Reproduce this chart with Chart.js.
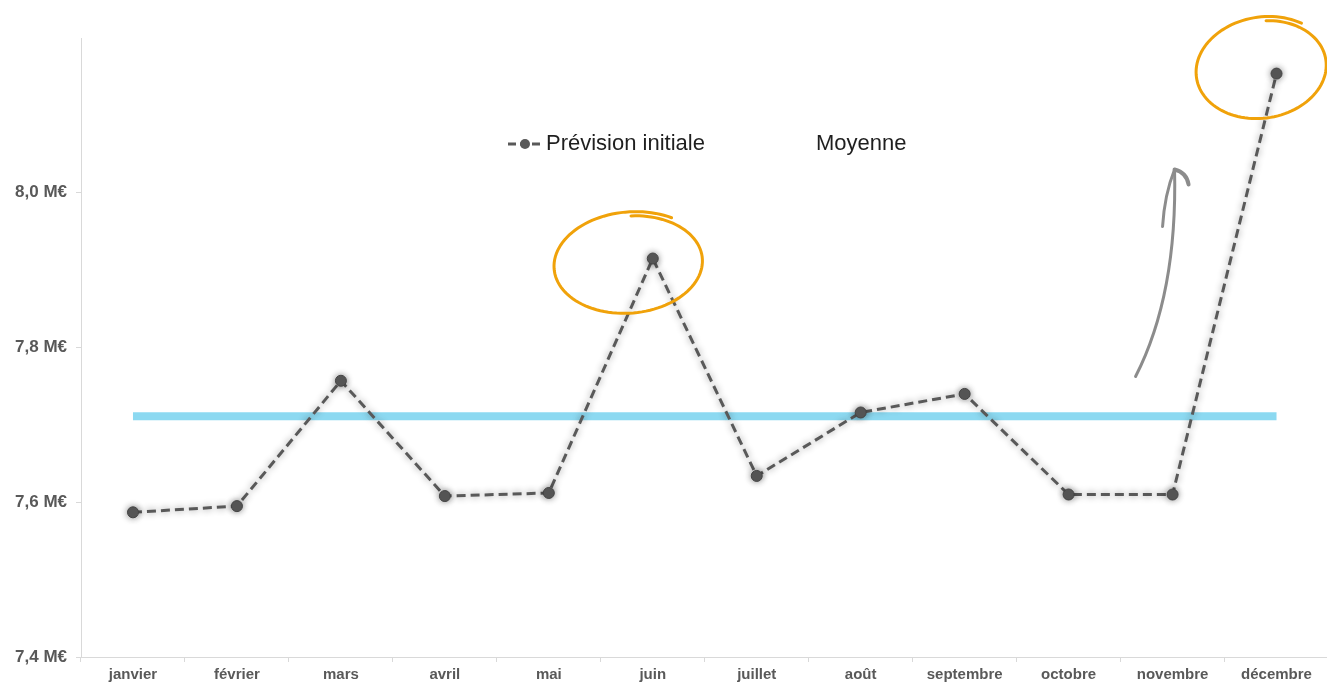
<!DOCTYPE html>
<html lang="fr">
<head>
<meta charset="UTF-8">
<title>Prévision initiale</title>
<script src="https://cdn.jsdelivr.net/npm/chart.js"></script>
<style>
  html, body { margin: 0; background: #fff; overflow: hidden; }
  canvas { display: block; }
</style>
</head>
<body>
<canvas id="chart" width="1335" height="682"></canvas>
<script>
// months (categories)
const mois = ['janvier', 'février', 'mars', 'avril', 'mai', 'juin', 'juillet', 'août', 'septembre', 'octobre', 'novembre', 'décembre'];
// forecast in M€
const prevision = [7.587, 7.595, 7.757, 7.608, 7.612, 7.915, 7.634, 7.716, 7.740, 7.610, 7.610, 8.154];
// average line
const moyenne = [7.711, 7.711, 7.711, 7.711, 7.711, 7.711, 7.711, 7.711, 7.711, 7.711, 7.711, 7.711];
// y axis
const yMin = 7.4, yMax = 8.2, yStep = 0.2;

const grey = '#595959';
const orange = '#f0a20a';
const font = '"Liberation Sans", Arial, sans-serif';

// glow under the dashed line
const glow = {
    id: 'glow',
    beforeDatasetDraw(chart, args) {
        if (args.index !== 0) return;
        const ctx = chart.ctx;
        ctx.save();
        ctx.shadowColor = 'rgba(0,0,0,0.45)';
        ctx.shadowBlur = 7;
    },
    afterDatasetDraw(chart, args) {
        if (args.index !== 0) return;
        chart.ctx.restore();
    }
};

// hand drawn ellipse around a point
function scribble(ctx, cx, cy, rx, ry, rot, start) {
    ctx.beginPath();
    const n = 120;
    const span = Math.PI * 2 + 0.55;
    for (let i = 0; i <= n; i++) {
        const t = start + span * i / n;
        const k = 0.95 + 0.09 * i / n;
        const x0 = Math.cos(t) * rx * k, y0 = Math.sin(t) * ry * k;
        const x = cx + x0 * Math.cos(rot) - y0 * Math.sin(rot);
        const y = cy + x0 * Math.sin(rot) + y0 * Math.cos(rot);
        if (i === 0) ctx.moveTo(x, y); else ctx.lineTo(x, y);
    }
    ctx.stroke();
}

const notes = {
    id: 'notes',
    afterDraw(chart) {
        const ctx = chart.ctx;
        const meta = chart.getDatasetMeta(0);
        const juin = meta.data[5], dec = meta.data[11], nov = meta.data[10];

        // legend
        ctx.save();
        ctx.strokeStyle = grey;
        ctx.lineWidth = 3;
        ctx.setLineDash([8, 4]);
        ctx.beginPath();
        ctx.moveTo(508, 144);
        ctx.lineTo(542, 144);
        ctx.stroke();
        ctx.setLineDash([]);
        ctx.fillStyle = grey;
        ctx.beginPath();
        ctx.arc(525, 144, 5, 0, Math.PI * 2);
        ctx.fill();
        ctx.fillStyle = '#1f1f1f';
        ctx.font = '22px ' + font;
        ctx.textBaseline = 'middle';
        ctx.fillText('Prévision initiale', 546, 144);
        ctx.fillText('Moyenne', 816, 144);
        ctx.restore();

        // orange circles
        ctx.save();
        ctx.strokeStyle = orange;
        ctx.lineWidth = 3;
        ctx.lineCap = 'round';
        scribble(ctx, juin.x - 23, juin.y + 5, 75, 50, -0.08, -1.5);
        scribble(ctx, dec.x - 14, dec.y - 5, 66, 50, -0.15, -1.4);
        ctx.restore();

        // grey arrow
        ctx.save();
        ctx.strokeStyle = '#8c8c8c';
        ctx.lineWidth = 3;
        ctx.lineCap = 'round';
        const ax = nov.x, ay = nov.y;
        ctx.beginPath();
        ctx.moveTo(ax - 37, ay - 118);
        ctx.quadraticCurveTo(ax + 5, ay - 200, ax + 2, ay - 325);
        ctx.stroke();
        ctx.beginPath();
        ctx.moveTo(ax + 2, ay - 325);
        ctx.quadraticCurveTo(ax - 8, ay - 300, ax - 10, ay - 268);
        ctx.stroke();
        ctx.lineWidth = 4;
        ctx.beginPath();
        ctx.moveTo(ax + 2, ay - 325);
        ctx.quadraticCurveTo(ax + 14, ay - 322, ax + 16, ay - 310);
        ctx.stroke();
        ctx.restore();
    }
};

new Chart(document.getElementById('chart'), {
    type: 'line',
    data: {
        labels: mois,
        datasets: [{
            label: 'Prévision initiale',
            data: prevision,
            borderColor: grey,
            borderWidth: 3,
            borderDash: [9, 5],
            pointRadius: 5.5,
            pointBackgroundColor: grey,
            pointBorderColor: '#444',
            pointBorderWidth: 1,
            tension: 0
        }, {
            label: 'Moyenne',
            data: moyenne,
            borderColor: 'rgba(120, 210, 238, 0.85)',
            borderWidth: 8,
            borderCapStyle: 'butt',
            pointRadius: 0
        }]
    },
    options: {
        responsive: false,
        animation: false,
        layout: { padding: { top: 38, right: 0, left: 0, bottom: 0 } },
        plugins: {
            legend: { display: false },
            tooltip: { enabled: false }
        },
        scales: {
            x: {
                offset: true,
                grid: { drawOnChartArea: false, offset: true, tickLength: 5, color: '#d9d9d9' },
                border: { color: '#d9d9d9' },
                ticks: {
                    color: grey,
                    padding: 4,
                    maxRotation: 0,
                    font: { family: font, size: 15, weight: 'bold' }
                },
                afterFit(scale) { scale.height = 25; }
            },
            y: {
                min: yMin,
                max: yMax,
                ticks: {
                    stepSize: yStep,
                    color: grey,
                    padding: 9,
                    font: { family: font, size: 17, weight: 'bold' },
                    callback(v) {
                        if (Math.abs(v - yMax) < 1e-6) return '';
                        return v.toFixed(1).replace('.', ',') + ' M€';
                    }
                },
                grid: {
                    drawOnChartArea: false,
                    tickLength: 5,
                    color: (c) => (c.tick && Math.abs(c.tick.value - yMax) < 1e-6) ? 'rgba(0,0,0,0)' : '#d9d9d9'
                },
                border: { color: '#d9d9d9' },
                afterFit(scale) { scale.width = 81; }
            }
        }
    },
    plugins: [glow, notes]
});
</script>
</body>
</html>
